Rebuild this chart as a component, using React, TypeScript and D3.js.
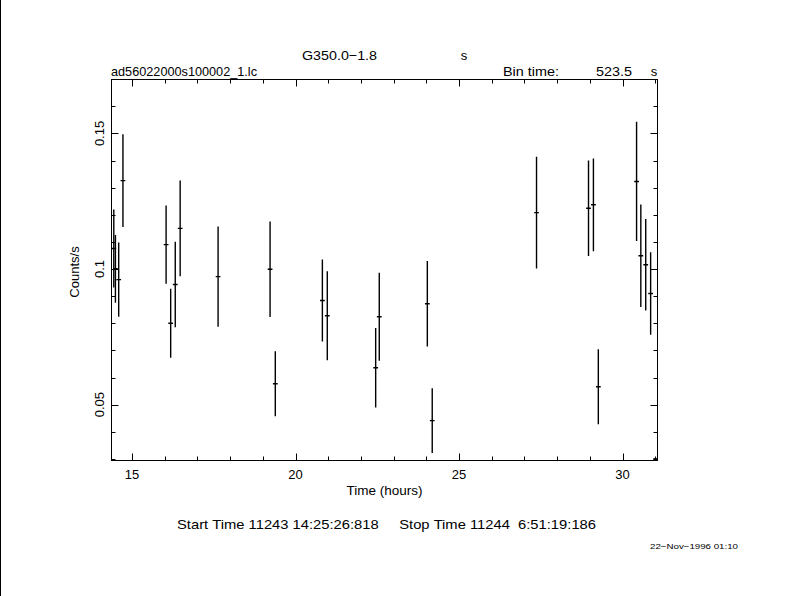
import React, { useEffect, useRef } from "react";
import * as d3 from "d3";

// Light-curve bins (hours), rate (counts/s), 1-sigma error
const timeHours = [14.44, 14.49, 14.59, 14.72, 16.04, 16.18, 16.32, 16.47, 17.63, 19.22, 19.38, 20.82, 20.97, 22.45, 22.56, 24.03, 24.18, 27.37, 28.96, 29.11, 29.26, 30.43, 30.56, 30.71, 30.86, 31.01];
const rates = [0.1076, 0.1001, 0.0961, 0.1326, 0.109, 0.08, 0.0943, 0.115, 0.0972, 0.0999, 0.0577, 0.0884, 0.0828, 0.0636, 0.0824, 0.0872, 0.0441, 0.1208, 0.1224, 0.1237, 0.0566, 0.1323, 0.1049, 0.1016, 0.091, 0.03];
const errors = [0.0144, 0.0125, 0.0137, 0.0171, 0.0144, 0.0127, 0.0158, 0.0177, 0.0185, 0.0176, 0.012, 0.0151, 0.0164, 0.0147, 0.0162, 0.0158, 0.0119, 0.0206, 0.0176, 0.0171, 0.0138, 0.022, 0.0189, 0.0169, 0.0152, 0.0004];

const xMajorTicks = [15, 20, 25, 30];
const xMinorTicks = [15, 16, 17, 18, 19, 20, 21, 22, 23, 24, 25, 26, 27, 28, 29, 30, 31];
const yMajorTicks = [0.05, 0.1, 0.15];
const yTickLabels = ["0.05", "0.1", "0.15"];
const yMinorTicks = [0.03, 0.04, 0.05, 0.06, 0.07, 0.08, 0.09, 0.1, 0.11, 0.12, 0.13, 0.14, 0.15, 0.16];

const binTimeSec = 523.5;
const xDomain = [14.37, 31.07];
const yDomain = [0.0294, 0.1699];

const W = 790;
const H = 596;
const L = 111.5, R = 657.5, T = 79.5, B = 460.5;
const FONT = "'Liberation Sans', Arial, sans-serif";
const NB = "\u00A0";

export default function App() {
  const ref = useRef<SVGSVGElement>(null);

  useEffect(() => {
    const svg = d3.select(ref.current);
    svg.selectAll("*").remove();

    const x = d3.scaleLinear().domain(xDomain).range([L, R]);
    const y = d3.scaleLinear().domain(yDomain).range([B, T]);

    svg.append("rect").attr("width", W).attr("height", H).attr("fill", "#fff");
    svg.append("rect").attr("x", 0).attr("y", 0).attr("width", 1).attr("height", H).attr("fill", "#000");

    const defs = svg.append("defs");
    defs.append("clipPath").attr("id", "plotclip")
      .append("rect").attr("x", L).attr("y", T).attr("width", R - L).attr("height", B - T);

    const g = svg.append("g");

    g.append("rect").attr("x", L).attr("y", T).attr("width", R - L).attr("height", B - T)
      .attr("fill", "none").attr("stroke", "#000").attr("stroke-width", 1);

    const tickG = g.append("g").attr("stroke", "#000").attr("stroke-width", 1);
    xMinorTicks.forEach((t) => {
      const major = xMajorTicks.includes(t);
      const len = major ? 7 : 4;
      const px = Math.round(x(t)) + 0.5;
      tickG.append("line").attr("x1", px).attr("x2", px).attr("y1", B).attr("y2", B - len);
      tickG.append("line").attr("x1", px).attr("x2", px).attr("y1", T).attr("y2", T + len);
    });
    yMinorTicks.forEach((v) => {
      const major = yMajorTicks.some((m) => Math.abs(m - v) < 1e-9);
      const len = major ? 7 : 4;
      const py = Math.round(y(v)) + 0.5;
      tickG.append("line").attr("x1", L).attr("x2", L + len).attr("y1", py).attr("y2", py);
      tickG.append("line").attr("x1", R).attr("x2", R - len).attr("y1", py).attr("y2", py);
    });

    const txt = (xx: number, yy: number, s: string, size = 13, anchor = "start", len?: number) => {
      const t = g.append("text").attr("x", xx).attr("y", yy).attr("text-anchor", anchor)
        .attr("font-family", FONT).attr("font-size", size).text(s);
      if (len) t.attr("textLength", len).attr("lengthAdjust", "spacingAndGlyphs");
      return t;
    };

    xMajorTicks.forEach((t) => txt(x(t), 479, String(t), 13, "middle"));
    yMajorTicks.forEach((v, i) => {
      g.append("text").attr("transform", `translate(104,${y(v)}) rotate(-90)`)
        .attr("text-anchor", "middle").attr("font-family", FONT).attr("font-size", 13)
        .text(yTickLabels[i]);
    });

    txt((L + R) / 2, 495, "Time (hours)", 13, "middle", 76);
    g.append("text").attr("transform", `translate(79,${(T + B) / 2 + 2}) rotate(-90)`)
      .attr("text-anchor", "middle").attr("font-family", FONT).attr("font-size", 13).text("Counts/s");

    txt(302, 60, "G350.0\u22121.8", 13, "start", 75);
    txt(464, 60, "s", 13, "middle");
    txt(111, 75.5, "ad56022000s100002_1.lc", 13, "start", 146);
    txt(503, 75.5, "Bin time:", 13, "start", 56);
    txt(596, 75.5, String(binTimeSec), 13, "start", 36);
    txt(654, 75.5, "s", 13, "middle");

    txt(177, 529, `Start${NB}Time${NB}11243${NB}14:25:26:818${NB}${NB}${NB}${NB}${NB}Stop${NB}Time${NB}11244${NB}${NB}6:51:19:186`, 13, "start", 419);
    txt(650, 549, "22\u2212Nov\u22121996 01:10", 8, "start", 88);

    const half = binTimeSec / 3600 / 2;
    const dg = g.append("g").attr("clip-path", "url(#plotclip)").attr("stroke", "#000").attr("stroke-width", 1.4);
    timeHours.forEach((t, i) => {
      const v = rates[i];
      const e = errors[i];
      dg.append("line").attr("x1", x(t)).attr("x2", x(t)).attr("y1", y(v - e)).attr("y2", y(v + e));
      dg.append("line").attr("x1", x(t - half)).attr("x2", x(t + half)).attr("y1", y(v)).attr("y2", y(v));
    });
  }, []);

  return (
    <svg ref={ref} width={W} height={H} style={{ position: "absolute", left: 0, top: 0 }} />
  );
}
